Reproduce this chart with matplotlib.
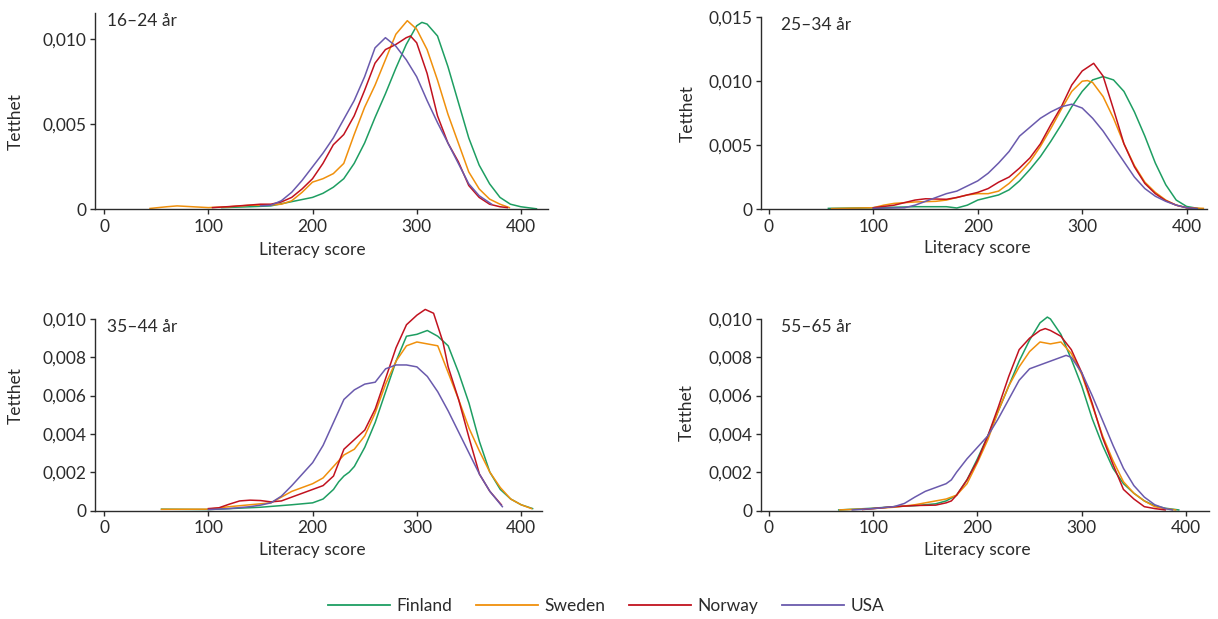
import matplotlib
matplotlib.use("Agg")
import matplotlib.pyplot as plt
from matplotlib.lines import Line2D
from matplotlib.ticker import FuncFormatter
from matplotlib.transforms import blended_transform_factory

plt.rcParams["font.family"] = ["Lato", "DejaVu Sans"]

countries = ["Finland", "Sweden", "Norway", "USA"]
colors = ["#1e9e62", "#f0900c", "#c1121f", "#6a5aad"]
age_groups = ["16–24 år", "25–34 år", "35–44 år", "55–65 år"]

# density curves: (literacy score, density)
fin_16_24 = [(113, 0.0001), (140, 0.00015), (160, 0.0002), (180, 0.00045), (200, 0.0007),
             (210, 0.00094), (220, 0.0013), (230, 0.0018), (240, 0.0027), (250, 0.0039),
             (260, 0.0054), (270, 0.0068), (280, 0.0083), (290, 0.0097), (300, 0.0108),
             (305, 0.0110), (310, 0.0109), (320, 0.0102), (330, 0.0084), (340, 0.0063),
             (350, 0.0042), (360, 0.0026), (370, 0.0015), (380, 0.0007), (390, 0.0003),
             (400, 0.00015), (415, 0.00003)]
swe_16_24 = [(44, 0.00005), (60, 0.00015), (70, 0.0002), (85, 0.00015), (100, 0.0001),
             (120, 0.00015), (140, 0.00024), (160, 0.00025), (170, 0.0003), (180, 0.0005),
             (190, 0.001), (200, 0.0016), (210, 0.0018), (220, 0.0021), (230, 0.0027),
             (240, 0.0044), (250, 0.006), (260, 0.0073), (270, 0.0088), (280, 0.0103),
             (291, 0.0111), (300, 0.0106), (310, 0.0094), (320, 0.0076), (330, 0.0056),
             (340, 0.0039), (350, 0.0022), (360, 0.0012), (370, 0.0006), (380, 0.0003),
             (389, 0.0001)]
nor_16_24 = [(104, 0.0001), (120, 0.00016), (140, 0.00025), (150, 0.0003), (160, 0.0003),
             (170, 0.00043), (180, 0.0007), (190, 0.0012), (200, 0.0018), (210, 0.0027),
             (220, 0.0038), (230, 0.0044), (240, 0.0055), (250, 0.007), (260, 0.0086),
             (270, 0.0094), (280, 0.0097), (290, 0.0101), (294, 0.0102), (300, 0.0098),
             (310, 0.008), (320, 0.0055), (330, 0.0039), (340, 0.0028), (350, 0.0014),
             (360, 0.0007), (370, 0.0003), (380, 0.00015), (387, 0.0001)]
usa_16_24 = [(150, 0.0002), (160, 0.00024), (170, 0.0005), (180, 0.001), (190, 0.0017),
             (200, 0.0025), (210, 0.0033), (220, 0.0042), (230, 0.0053), (240, 0.0064),
             (250, 0.0078), (260, 0.0095), (270, 0.0101), (280, 0.0096), (290, 0.0088),
             (300, 0.0078), (310, 0.0064), (320, 0.0051), (330, 0.0039), (340, 0.0027),
             (350, 0.0015), (360, 0.0008), (372, 0.0003)]

fin_25_34 = [(57, 0.00005), (100, 0.0001), (140, 0.00018), (170, 0.00018), (180, 0.00008),
             (190, 0.0003), (200, 0.0007), (210, 0.0009), (220, 0.0011), (230, 0.0015),
             (240, 0.0022), (250, 0.0031), (260, 0.0041), (270, 0.0053), (280, 0.0066),
             (290, 0.008), (300, 0.0092), (310, 0.0101), (320, 0.01036), (330, 0.0101),
             (340, 0.0092), (350, 0.0076), (360, 0.0057), (370, 0.0036), (380, 0.0019),
             (390, 0.0007), (400, 0.0002), (412, 0.00003)]
swe_25_34 = [(60, 0.00003), (100, 0.0001), (110, 0.0003), (120, 0.00044), (140, 0.00055),
             (160, 0.0006), (170, 0.0007), (180, 0.0009), (190, 0.0011), (200, 0.0012),
             (210, 0.0012), (220, 0.0014), (230, 0.002), (240, 0.0028), (250, 0.0037),
             (260, 0.0049), (270, 0.0063), (280, 0.0078), (290, 0.0092), (300, 0.01),
             (305, 0.01005), (310, 0.0099), (320, 0.0088), (330, 0.0071), (340, 0.0051),
             (350, 0.0034), (360, 0.0021), (370, 0.0013), (380, 0.0007), (390, 0.0003),
             (400, 0.0001), (416, 0.00005)]
nor_25_34 = [(100, 0.0001), (120, 0.0003), (140, 0.0007), (150, 0.0008), (160, 0.00078),
             (170, 0.00076), (180, 0.0009), (190, 0.0011), (200, 0.0013), (210, 0.0016),
             (220, 0.0021), (230, 0.0025), (240, 0.0032), (250, 0.004), (260, 0.0051),
             (270, 0.0066), (280, 0.008), (290, 0.0097), (300, 0.0108), (311, 0.0114),
             (320, 0.0104), (330, 0.0078), (340, 0.0051), (350, 0.0033), (360, 0.002),
             (370, 0.0012), (380, 0.00065), (390, 0.0003), (400, 0.0001), (410, 0.00003)]
usa_25_34 = [(100, 0.00005), (130, 0.0001), (140, 0.0003), (150, 0.0006), (160, 0.0009),
             (170, 0.0012), (180, 0.0014), (190, 0.0018), (200, 0.0022), (210, 0.0028),
             (220, 0.0036), (230, 0.0045), (240, 0.0057), (250, 0.0064), (260, 0.0071),
             (270, 0.0076), (280, 0.008), (290, 0.0082), (300, 0.0079), (310, 0.0071),
             (320, 0.0061), (330, 0.0049), (340, 0.0037), (350, 0.0025), (360, 0.0016),
             (370, 0.001), (380, 0.0006), (390, 0.0003), (400, 0.0001), (410, 0.00003)]

fin_35_44 = [(55, 0.00007), (100, 0.00005), (150, 0.00017), (180, 0.0003), (200, 0.0004),
             (210, 0.0006), (220, 0.0011), (225, 0.0015), (230, 0.0018), (235, 0.002),
             (240, 0.0023), (250, 0.0033), (260, 0.0046), (270, 0.0062), (280, 0.0078),
             (290, 0.0091), (300, 0.0092), (310, 0.0094), (320, 0.0091), (330, 0.0086),
             (340, 0.0072), (350, 0.0056), (360, 0.0036), (370, 0.002), (380, 0.0011),
             (390, 0.0006), (400, 0.0003), (411, 0.0001)]
swe_35_44 = [(55, 0.00006), (100, 0.00007), (120, 0.0002), (140, 0.0003), (160, 0.0004),
             (170, 0.0007), (180, 0.001), (190, 0.0012), (200, 0.0014), (210, 0.0017),
             (220, 0.0023), (230, 0.0029), (240, 0.0032), (250, 0.0039), (260, 0.0051),
             (270, 0.0066), (280, 0.0078), (290, 0.0086), (300, 0.0088), (310, 0.0087),
             (320, 0.0086), (330, 0.0072), (340, 0.0058), (350, 0.0043), (360, 0.0031),
             (370, 0.002), (380, 0.0012), (390, 0.0006), (400, 0.0003), (410, 0.0001)]
nor_35_44 = [(100, 0.0001), (110, 0.00014), (120, 0.00033), (130, 0.0005), (140, 0.00054),
             (150, 0.00052), (160, 0.00045), (170, 0.0005), (180, 0.0007), (190, 0.0009),
             (200, 0.0011), (210, 0.0013), (220, 0.0018), (230, 0.0032), (240, 0.0037),
             (250, 0.0042), (260, 0.0053), (270, 0.0069), (280, 0.0085), (290, 0.0097),
             (300, 0.0102), (308, 0.0105), (316, 0.0103), (325, 0.0088), (330, 0.0075),
             (340, 0.0058), (350, 0.0038), (360, 0.0019), (370, 0.001), (381, 0.0003)]
usa_35_44 = [(100, 0.00005), (120, 0.0001), (140, 0.0002), (150, 0.00028), (160, 0.0004),
             (170, 0.00075), (180, 0.0013), (185, 0.0016), (190, 0.0019), (200, 0.0025),
             (210, 0.0034), (220, 0.0046), (230, 0.0058), (240, 0.0063), (250, 0.0066),
             (260, 0.0067), (270, 0.0074), (280, 0.0076), (290, 0.0076), (300, 0.0075),
             (310, 0.007), (320, 0.0062), (330, 0.0052), (340, 0.0041), (350, 0.003),
             (360, 0.0019), (370, 0.001), (382, 0.0002)]

fin_55_65 = [(67, 0.00003), (100, 0.00012), (120, 0.0002), (140, 0.00025), (160, 0.00035),
             (170, 0.0005), (180, 0.0008), (190, 0.0016), (200, 0.0027), (210, 0.0039),
             (220, 0.0052), (230, 0.0065), (240, 0.0078), (250, 0.0089), (260, 0.0098),
             (267, 0.0101), (270, 0.01), (280, 0.0092), (290, 0.0079), (300, 0.0065),
             (310, 0.0048), (320, 0.0034), (330, 0.0022), (340, 0.0014), (350, 0.0009),
             (360, 0.0005), (370, 0.00025), (380, 0.00012), (393, 0.00003)]
swe_55_65 = [(68, 0.00003), (100, 0.0001), (120, 0.00017), (140, 0.0003), (160, 0.0005),
             (170, 0.0006), (180, 0.0008), (190, 0.0014), (200, 0.0025), (210, 0.0037),
             (220, 0.0052), (230, 0.0065), (240, 0.0075), (250, 0.0083), (260, 0.0088),
             (270, 0.0087), (280, 0.0088), (290, 0.0082), (300, 0.0071), (310, 0.0055),
             (320, 0.0039), (330, 0.0026), (340, 0.0015), (350, 0.0009), (360, 0.0005),
             (370, 0.0002), (380, 0.0001), (390, 0.00003)]
nor_55_65 = [(90, 0.00005), (100, 0.0001), (120, 0.0002), (140, 0.00026), (160, 0.00028),
             (170, 0.0004), (175, 0.0005), (180, 0.0008), (190, 0.0016), (200, 0.0026),
             (210, 0.0039), (220, 0.0054), (230, 0.007), (240, 0.0084), (250, 0.009),
             (260, 0.0094), (265, 0.0095), (270, 0.0094), (280, 0.0091), (290, 0.0084),
             (300, 0.0072), (310, 0.0056), (320, 0.0038), (330, 0.0024), (340, 0.0011),
             (350, 0.0006), (360, 0.0002), (370, 0.0001), (380, 0.00003)]
usa_55_65 = [(80, 0.00003), (100, 0.0001), (120, 0.0002), (130, 0.00037), (140, 0.0007),
             (150, 0.001), (160, 0.0012), (170, 0.0014), (175, 0.0016), (180, 0.002),
             (190, 0.0027), (200, 0.0033), (210, 0.0039), (220, 0.0048), (230, 0.0058),
             (240, 0.0068), (250, 0.0074), (260, 0.0076), (270, 0.0078), (280, 0.008),
             (285, 0.0081), (290, 0.008), (300, 0.0072), (310, 0.006), (320, 0.0047),
             (330, 0.0034), (340, 0.0022), (350, 0.0013), (360, 0.0007), (370, 0.0003),
             (380, 0.0001), (387, 0.00003)]

curves = [
    [fin_16_24, swe_16_24, nor_16_24, usa_16_24],
    [fin_25_34, swe_25_34, nor_25_34, usa_25_34],
    [fin_35_44, swe_35_44, nor_35_44, usa_35_44],
    [fin_55_65, swe_55_65, nor_55_65, usa_55_65],
]
y_ticks = [
    [0, 0.005, 0.010],
    [0, 0.005, 0.010, 0.015],
    [0, 0.002, 0.004, 0.006, 0.008, 0.010],
    [0, 0.002, 0.004, 0.006, 0.008, 0.010],
]
x_ticks = [0, 100, 200, 300, 400]

W, H = 1218, 619
fig = plt.figure(figsize=(W / 100, H / 100), dpi=100)

# panel boxes in pixels: left, top, right, bottom
boxes = [(94.6, 12.7, 547.5, 209.3), (761, 17.3, 1207, 209),
         (94.6, 319, 542.5, 510.5), (761, 319, 1209, 510.5)]
xlims = [(-9.2, 425.6), (-7.5, 419.5), (-9.2, 420.5), (-7.5, 422)]
ylims = [(0, 0.01157), (0, 0.015), (0, 0.010), (0, 0.010)]
ylabel_y = [0.446, 0.5, 0.599, 0.509]
ylabel_px = [16, 688, 16, 687]
title_px = [107, 781, 107, 781]

def fmt(v, pos):
    if abs(v) < 1e-9:
        return "0"
    return f"{v:.3f}".replace(".", ",")

ink = "#2b2b2b"
for i in range(4):
    l, t, r, b = boxes[i]
    ax = fig.add_axes([l / W, 1 - b / H, (r - l) / W, (b - t) / H])
    for j, pts in enumerate(curves[i]):
        xs = [p[0] for p in pts]
        ys = [p[1] for p in pts]
        # peaks may rise a little above the top tick
        ax.plot(xs, ys, color=colors[j], lw=1.1, solid_joinstyle="round", clip_on=False)
    ax.set_xlim(*xlims[i])
    ax.set_ylim(*ylims[i])
    ax.set_xticks(x_ticks)
    ax.set_yticks(y_ticks[i])
    ax.yaxis.set_major_formatter(FuncFormatter(fmt))
    for s in ["top", "right"]:
        ax.spines[s].set_visible(False)
    for s in ["left", "bottom"]:
        ax.spines[s].set_color(ink)
        ax.spines[s].set_linewidth(1.0)
    ax.tick_params(axis="both", colors=ink, labelcolor=ink, labelsize=12.5,
                   length=3.6, width=1.0, direction="out")
    ax.tick_params(axis="x", pad=3.5)
    ax.tick_params(axis="y", pad=2.5)

    ax.set_xlabel("Literacy score", fontsize=12.5, color=ink)
    ax.xaxis.set_label_coords(200, -0.205,
                              transform=blended_transform_factory(ax.transData, ax.transAxes))
    ax.xaxis.label.set_va("center")
    ax.set_ylabel("Tetthet", fontsize=12.5, color=ink)
    ax.yaxis.set_label_coords((ylabel_px[i] - l) / (r - l), ylabel_y[i])
    ax.yaxis.label.set_va("center")

    ax.text((title_px[i] - l) / (r - l), 1.0, age_groups[i], transform=ax.transAxes,
            ha="left", va="top", fontsize=12.5, color=ink)

handles = [Line2D([], [], color=c, lw=1.3) for c in colors]
fig.legend(handles, countries, loc="center", bbox_to_anchor=(0.4975, 1 - 606 / H),
           ncol=4, frameon=False, fontsize=12.5, handlelength=3.6,
           handletextpad=0.35, columnspacing=1.35, labelcolor=ink)

fig.savefig("out.png", dpi=100)
